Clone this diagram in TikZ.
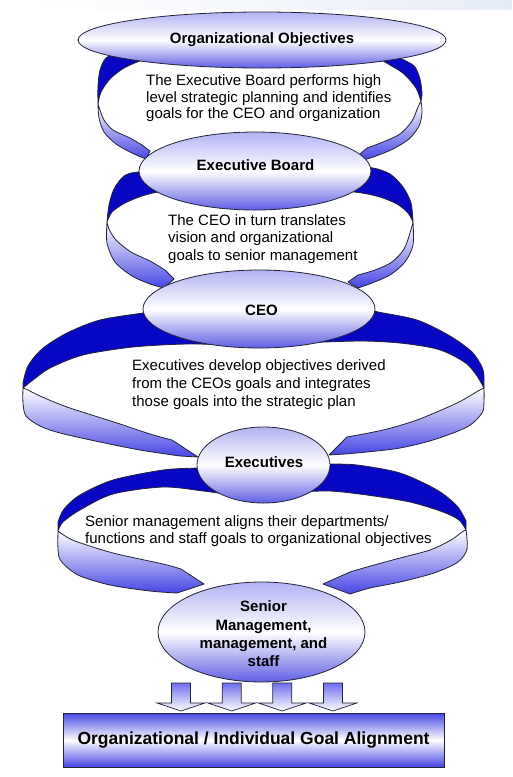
\documentclass[tikz,border=0pt]{standalone}
\usepackage{fontspec}
\setmainfont{Liberation Sans}
\usetikzlibrary{shapes.geometric}
\definecolor{rdark}{RGB}{8,8,196}
\definecolor{rfront}{RGB}{70,70,228}
\definecolor{etop}{RGB}{178,178,243}
\definecolor{ebot}{RGB}{95,95,228}
\definecolor{edgec}{RGB}{35,35,55}
\definecolor{abox}{RGB}{70,70,228}
\definecolor{arrtop}{RGB}{110,110,236}
\definecolor{topband}{RGB}{230,236,246}
\tikzset{
 darkband/.style={fill=rdark, draw=edgec, line width=0.8pt, line join=round},
 frontband/.style={top color=white, bottom color=rfront, draw=edgec, line width=0.8pt, line join=round},
 bubble/.style={ellipse, draw=edgec, line width=0.8pt, top color=etop, bottom color=ebot, middle color=white, inner sep=0pt},
 lbl/.style={font=\bfseries\fontsize{15}{18.3}\selectfont, align=center, inner sep=0pt},
 body/.style={align=left, inner sep=0pt, anchor=west},
 blockarrow/.style={top color=arrtop, bottom color=white, draw=edgec, line width=0.7pt, line join=miter},
 goalbox/.style={draw=edgec, line width=0.8pt, top color=abox, bottom color=abox, middle color=white, inner sep=0pt,
   font=\bfseries\fontsize{17.5}{20}\selectfont},
}
\begin{document}
\begin{tikzpicture}[x=1pt,y=-1pt]
\useasboundingbox (0,0) rectangle (512,777);
\fill[white] (0,0) rectangle (512,777);
\shade[left color=white, right color=topband] (30,0) rectangle (512,9);

% ---------- ribbon 1 (Organizational Objectives -> Executive Board)
\path[darkband] plot[smooth] coordinates {(118,52) (106,58) (100,70) (98,86) (98,104)}
  -- plot[smooth] coordinates {(98,104) (101,92) (110,79) (124,68) (142,60)} -- cycle;
\path[frontband] plot[smooth] coordinates {(98,104) (99,118) (104,132) (116,144) (132,153) (146,159)}
  -- (150,151) -- plot[smooth] coordinates {(142,145) (130,138) (113,130) (104,120) (100,110) (98,104)} -- cycle;
\path[darkband] plot[smooth] coordinates {(392,55) (406,61) (415,67) (420,79) (422,93) (421,101)}
  -- plot[smooth] coordinates {(421,101) (416,88) (404,74) (390,65) (378,58)} -- cycle;
\path[frontband] plot[smooth] coordinates {(421,101) (422,113) (419,126) (409,139) (393,149) (376,156) (364,160)}
  -- (360,154) -- plot[smooth] coordinates {(367,148) (383,142) (400,134) (412,121) (418,107) (421,101)} -- cycle;

% ---------- ribbon 2 (Executive Board -> CEO)
\path[darkband] plot[smooth] coordinates {(165,173) (138,172) (124,176) (114,189) (109,205) (107,222)}
  -- plot[smooth] coordinates {(107,222) (112,212) (125,203) (142,196) (158,192) (175,191)} -- cycle;
\path[frontband] plot[smooth] coordinates {(107,222) (107,243) (115,262) (132,276) (150,284) (164,288)}
  -- (174,279) -- plot[smooth] coordinates {(165,270) (150,261) (131,252) (116,240) (109,229) (107,222)} -- cycle;
\path[darkband] plot[smooth] coordinates {(355,168) (373,168) (390,174) (403,187) (411,203) (413,222)}
  -- plot[smooth] coordinates {(413,222) (408,213) (397,204) (380,197) (362,193) (345,191)} -- cycle;
\path[frontband] plot[smooth] coordinates {(413,222) (413,245) (405,262) (390,275) (372,283) (358,288)}
  -- (348,282) -- plot[smooth] coordinates {(358,275) (375,270) (392,262) (404,249) (410,233) (413,222)} -- cycle;

% ---------- ribbon 3 (CEO -> Executives)
\path[darkband] plot[smooth] coordinates {(155,311) (143,313) (100,320) (67,333) (42,349) (28,366) (23,383)}
  -- (23,388) -- plot[smooth] coordinates {(23,388) (33,380) (50,368) (83,355) (133,347) (187,344) (230,345)} -- cycle;
\path[frontband] plot[smooth] coordinates {(23,388) (23,403) (26,416) (40,426) (60,433) (100,442) (140,450) (180,456)}
  -- (198,457) -- (172,440) -- plot[smooth] coordinates {(172,440) (150,434) (117,423) (67,407) (40,396) (28,390) (23,388)} -- cycle;
\path[darkband] plot[smooth] coordinates {(368,309) (378,312) (417,320) (450,336) (472,352) (482,367) (484,376)}
  -- (484,388) -- plot[smooth] coordinates {(484,388) (477,376) (467,364) (450,354) (433,348) (400,343) (360,341) (300,343)} -- cycle;
\path[frontband] plot[smooth] coordinates {(484,388) (484,401) (482,413) (467,427) (433,440) (400,448) (367,452) (345,454)}
  -- (329,455) -- (347,437) -- plot[smooth] coordinates {(347,437) (383,430) (417,420) (457,403) (478,391) (484,388)} -- cycle;

% ---------- ribbon 4 (Executives -> Senior management)
\path[darkband] plot[smooth] coordinates {(210,467) (197,468) (163,470) (113,480) (80,495) (64,509) (58,522)}
  -- (58,531) -- plot[smooth] coordinates {(58,531) (63,522) (80,510) (113,494) (163,487) (203,491) (225,494)} -- cycle;
\path[frontband] plot[smooth] coordinates {(58,531) (58,549) (61,561) (78,575) (110,585) (150,591) (177,593)}
  -- (204,584) -- (181,569) -- plot[smooth] coordinates {(181,569) (163,564) (113,553) (75,541) (62,534) (58,531)} -- cycle;
\path[darkband] plot[smooth] coordinates {(315,463) (330,464) (357,465) (400,473) (437,490) (457,506) (466,521)}
  -- (466,530) -- plot[smooth] coordinates {(466,530) (459,520) (443,512) (410,502) (367,495) (330,491) (300,492)} -- cycle;
\path[frontband] plot[smooth] coordinates {(466,530) (467,549) (458,562) (434,573) (400,582) (370,588) (350,594)}
  -- (323,584) -- (350,572) -- plot[smooth] coordinates {(350,572) (367,567) (400,558) (430,550) (451,540) (462,532) (466,530)} -- cycle;

% ---------- ellipses
\node[bubble, minimum width=368pt, minimum height=56pt] (e1) at (262,40) {};
\node[bubble, minimum width=232pt, minimum height=78pt] (e2) at (255,171) {};
\node[bubble, minimum width=232pt, minimum height=78pt] (e3) at (259,309) {};
\node[bubble, minimum width=133pt, minimum height=76pt] (e4) at (263.5,465) {};
\node[bubble, minimum width=207pt, minimum height=100pt] (e5) at (261.5,632) {};

\node[lbl] (l1) at (262,40) {Organizational Objectives};
\node[lbl] (l2) at (255.5,165) {Executive Board};
\node[lbl] (l3) at (261.5,310) {CEO};
\node[lbl] (l4) at (264,462) {Executives};
\node[lbl] (l5) at (263.5,634) {Senior\\Management,\\management, and\\staff};

% ---------- body texts
\node[body, font=\fontsize{15}{16.7}\selectfont] (t1) at (146,98.3)
  {The Executive Board performs high\\level strategic planning and identifies\\goals for the CEO and organization};
\node[body, font=\fontsize{15}{17.7}\selectfont] (t2) at (168,239)
  {The CEO in turn translates\\vision and organizational\\goals to senior management};
\node[body, font=\fontsize{15}{18}\selectfont] (t3) at (132,385)
  {Executives develop objectives derived\\from the CEOs goals and integrates\\those goals into the strategic plan};
\node[body, font=\fontsize{15}{16.7}\selectfont] (t4) at (85,531)
  {Senior management aligns their departments/\\functions and staff goals to organizational objectives};

% ---------- block arrows
\foreach \cx in {181,231.7,282.3,333}{
  \path[blockarrow] (\cx-9.5,683) -- (\cx+9.5,683) -- (\cx+9.5,703) -- (\cx+24,703) -- (\cx,711)
     -- (\cx-24,703) -- (\cx-9.5,703) -- cycle;
}

% ---------- goal box
\node[goalbox, minimum width=381pt, minimum height=54pt] (goal) at (253.5,740)
  {Organizational / Individual Goal Alignment};
\end{tikzpicture}
\end{document}
